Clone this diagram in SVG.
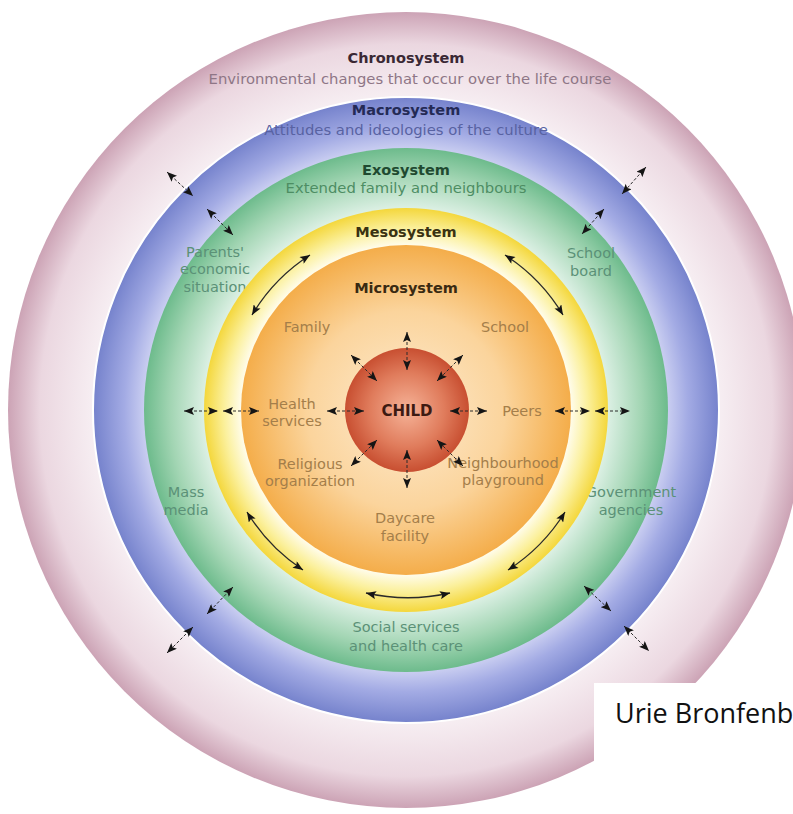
<svg xmlns="http://www.w3.org/2000/svg" width="793" height="814" viewBox="0 0 793 814">
<defs>
<radialGradient id="gPink" gradientUnits="userSpaceOnUse" cx="406" cy="410" r="398"><stop offset="0.78" stop-color="#f7eff3"/><stop offset="0.92" stop-color="#ebd7e0"/><stop offset="1" stop-color="#cca3b5"/></radialGradient>
<radialGradient id="gBlue" gradientUnits="userSpaceOnUse" cx="406" cy="410" r="313"><stop offset="0.83" stop-color="#cdd1f2"/><stop offset="0.9" stop-color="#a3abe4"/><stop offset="1" stop-color="#7582cc"/></radialGradient>
<radialGradient id="gGreen" gradientUnits="userSpaceOnUse" cx="406" cy="410" r="262"><stop offset="0.77" stop-color="#dcf0e4"/><stop offset="0.9" stop-color="#a2d5b3"/><stop offset="1" stop-color="#6dbb8c"/></radialGradient>
<radialGradient id="gYellow" gradientUnits="userSpaceOnUse" cx="406" cy="410" r="202"><stop offset="0.81" stop-color="#fffdf0"/><stop offset="0.9" stop-color="#fbf09c"/><stop offset="1" stop-color="#f4d73c"/></radialGradient>
<radialGradient id="gOrange" gradientUnits="userSpaceOnUse" cx="406" cy="410" r="165"><stop offset="0" stop-color="#fdebd0"/><stop offset="0.6" stop-color="#fbd49c"/><stop offset="1" stop-color="#f4ad4a"/></radialGradient>
<radialGradient id="gChild" gradientUnits="userSpaceOnUse" cx="407" cy="410" r="62"><stop offset="0" stop-color="#f6b398"/><stop offset="0.6" stop-color="#e07c5c"/><stop offset="1" stop-color="#c84f31"/></radialGradient>
<marker id="ah" viewBox="0 0 10 8" refX="10" refY="4" markerWidth="11" markerHeight="8" markerUnits="userSpaceOnUse" orient="auto-start-reverse"><path d="M0,0 L10,4 L0,8 L2,4 z" fill="#151515"/></marker>
<style>
.t{font-family:"DejaVu Sans",Verdana,sans-serif;text-anchor:middle}
.h{font-weight:bold;font-size:14.5px}
.s{font-size:14.8px}
.mi{font-size:14.5px;fill:#a47e4a}
.ex{font-size:14.5px;fill:#5b9177}
.da{fill:none;stroke:#2a2a2a;stroke-width:1;stroke-dasharray:3 2;marker-start:url(#ah);marker-end:url(#ah)}
.cu{fill:none;stroke:#2a2a2a;stroke-width:1.3;marker-start:url(#ah);marker-end:url(#ah)}
</style>
</defs>
<rect width="793" height="814" fill="#ffffff"/>
<g id="chronosystem">
<circle cx="406" cy="410" r="398" fill="url(#gPink)"/>
<text class="t h" x="406" y="63" fill="#3a2834">Chronosystem</text>
<text class="t s" x="410" y="84" fill="#8e7686">Environmental changes that occur over the life course</text>
</g>
<g id="macrosystem">
<circle cx="406" cy="410" r="313" fill="url(#gBlue)" stroke="#ffffff" stroke-width="2"/>
<text class="t h" x="406" y="115" fill="#242a55">Macrosystem</text>
<text class="t s" x="406" y="135" fill="#5862a2">Attitudes and ideologies of the culture</text>
</g>
<g id="exosystem">
<circle cx="406" cy="410" r="262" fill="url(#gGreen)"/>
<text class="t h" x="406" y="175" fill="#1f4a30">Exosystem</text>
<text class="t s" x="406" y="193" fill="#4d8d63">Extended family and neighbours</text>
<text class="t ex" x="215" y="257">Parents'</text>
<text class="t ex" x="215" y="274">economic</text>
<text class="t ex" x="215" y="292">situation</text>
<text class="t ex" x="591" y="258">School</text>
<text class="t ex" x="591" y="276">board</text>
<text class="t ex" x="186" y="497">Mass</text>
<text class="t ex" x="186" y="515">media</text>
<text class="t ex" x="631" y="497">Government</text>
<text class="t ex" x="631" y="515">agencies</text>
<text class="t ex" x="406" y="632">Social services</text>
<text class="t ex" x="406" y="651">and health care</text>
</g>
<g id="mesosystem">
<circle cx="406" cy="410" r="202" fill="url(#gYellow)"/>
<text class="t h" x="406" y="237" fill="#3a3212">Mesosystem</text>
</g>
<g id="microsystem">
<circle cx="406" cy="410" r="165" fill="url(#gOrange)"/>
<text class="t h" x="406" y="293" fill="#3a2a12">Microsystem</text>
<text class="t mi" x="307" y="332">Family</text>
<text class="t mi" x="505" y="332">School</text>
<text class="t mi" x="292" y="409">Health</text>
<text class="t mi" x="292" y="426">services</text>
<text class="t mi" x="522" y="416">Peers</text>
<text class="t mi" x="310" y="469">Religious</text>
<text class="t mi" x="310" y="486">organization</text>
<text class="t mi" x="503" y="468">Neighbourhood</text>
<text class="t mi" x="503" y="485">playground</text>
<text class="t mi" x="405" y="523">Daycare</text>
<text class="t mi" x="405" y="541">facility</text>
</g>
<g id="child">
<circle cx="407" cy="410" r="62" fill="url(#gChild)"/>
<text class="t" x="407" y="416" font-size="15" font-weight="bold" fill="#3d1a12">CHILD</text>
</g>
<g id="connectors">
<line class="da" x1="407" y1="332" x2="407" y2="370"/>
<line class="da" x1="407" y1="450" x2="407" y2="488"/>
<line class="da" x1="327" y1="411" x2="364" y2="411"/>
<line class="da" x1="450" y1="411" x2="487" y2="411"/>
<line class="da" x1="351" y1="355" x2="377" y2="381"/>
<line class="da" x1="463" y1="355" x2="437" y2="381"/>
<line class="da" x1="351" y1="466" x2="377" y2="440"/>
<line class="da" x1="463" y1="466" x2="437" y2="440"/>
<line class="da" x1="184" y1="411" x2="218" y2="411"/>
<line class="da" x1="223" y1="411" x2="259" y2="411"/>
<line class="da" x1="555" y1="411" x2="590" y2="411"/>
<line class="da" x1="595" y1="411" x2="630" y2="411"/>
<line class="da" x1="167" y1="172" x2="193" y2="196"/>
<line class="da" x1="207" y1="209" x2="233" y2="235"/>
<line class="da" x1="646" y1="167" x2="622" y2="194"/>
<line class="da" x1="604" y1="209" x2="582" y2="234"/>
<line class="da" x1="233" y1="587" x2="207" y2="614"/>
<line class="da" x1="193" y1="627" x2="167" y2="653"/>
<line class="da" x1="584" y1="586" x2="611" y2="611"/>
<line class="da" x1="624" y1="626" x2="649" y2="651"/>
<path class="cu" d="M310,255 A182,182 0 0 0 252,315"/>
<path class="cu" d="M505,255 A182,182 0 0 1 563,315"/>
<path class="cu" d="M247,512 A184,184 0 0 0 303,570"/>
<path class="cu" d="M565,512 A184,184 0 0 1 508,570"/>
<path class="cu" d="M366,593 A190,190 0 0 0 450,593"/>
</g>
<g id="caption">
<rect x="594" y="683" width="199" height="90" fill="#ffffff"/>
<text x="615" y="723" font-family="'Open Sans','Liberation Sans',sans-serif" font-size="27" fill="#111111">Urie Bronfenb</text>
</g>
</svg>
